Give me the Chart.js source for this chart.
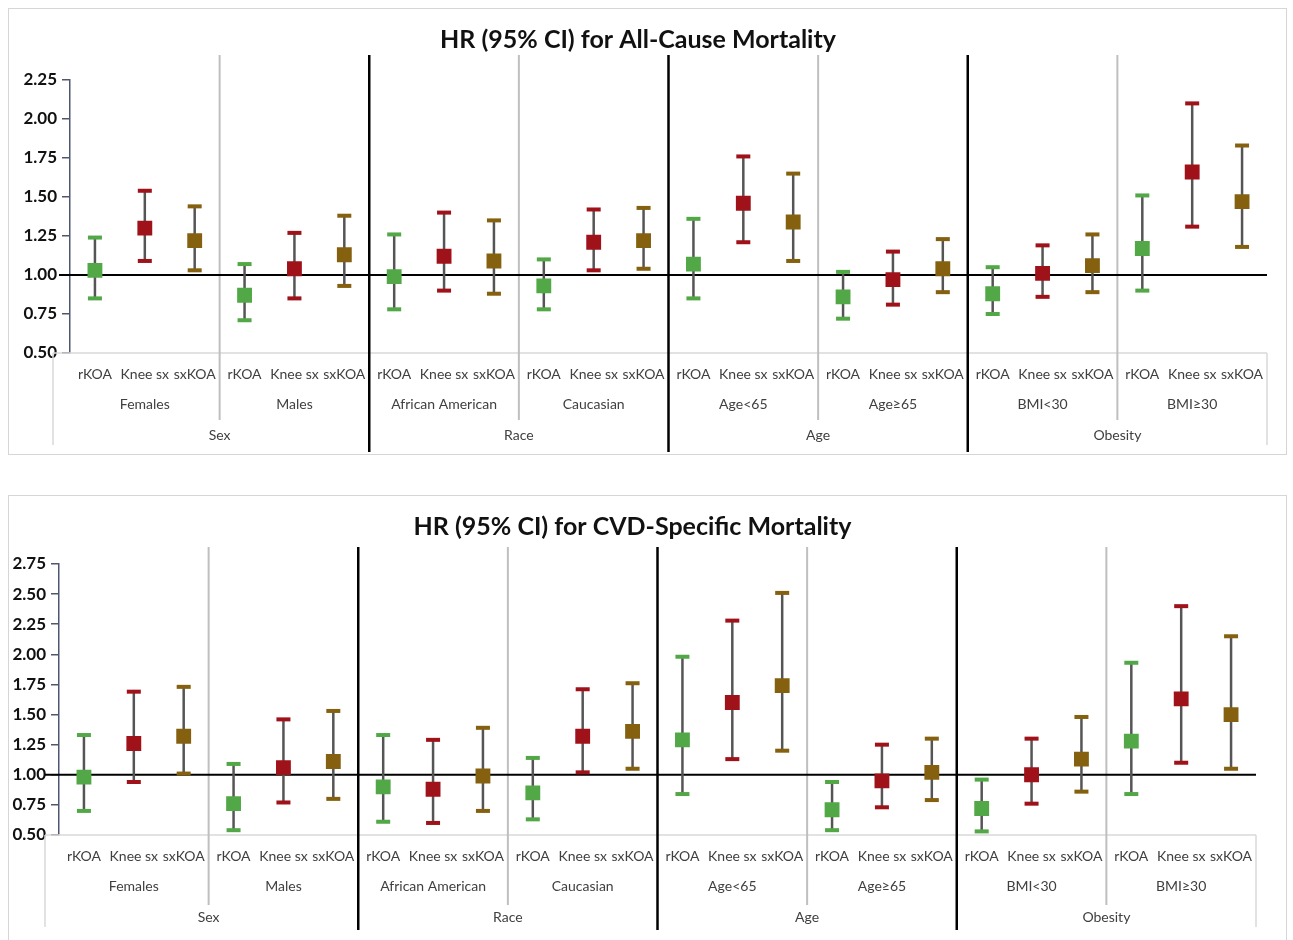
<!DOCTYPE html>
<html>
<head>
<meta charset="utf-8">
<title>HR (95% CI) mortality</title>
<script src="https://cdn.jsdelivr.net/npm/chart.js@4.4.0/dist/chart.umd.min.js"></script>
<style>
  body { margin: 0; background: #fff; width: 1293px; height: 940px; overflow: hidden; position: relative; }
  .panel { position: absolute; left: 8px; width: 1277px; border: 1px solid #d6d6d6; background: #fff; }
  #p1 { top: 8px; height: 445px; }
  #p2 { top: 495px; height: 458px; }
  canvas { display: block; }
</style>
</head>
<body>
<div class="panel" id="p1"><canvas id="acm"></canvas></div>
<div class="panel" id="p2"><canvas id="cvd"></canvas></div>

<script>
const subgroups = ['Females', 'Males', 'African American', 'Caucasian', 'Age<65', 'Age\u226565', 'BMI<30', 'BMI\u226530'];
const groups = ['Sex', 'Race', 'Age', 'Obesity'];
const measures = ['rKOA', 'Knee sx', 'sxKOA'];
const colors = ['#52a846', '#a01219', '#84600f'];

// all-cause mortality, one value per subgroup
const acmRkoa   = [1.03, 0.87, 0.99, 0.93, 1.07, 0.86, 0.88, 1.17];
const acmRkoaLo = [0.85, 0.71, 0.78, 0.78, 0.85, 0.72, 0.75, 0.90];
const acmRkoaHi = [1.24, 1.07, 1.26, 1.10, 1.36, 1.02, 1.05, 1.51];
const acmKnee   = [1.30, 1.04, 1.12, 1.21, 1.46, 0.97, 1.01, 1.66];
const acmKneeLo = [1.09, 0.85, 0.90, 1.03, 1.21, 0.81, 0.86, 1.31];
const acmKneeHi = [1.54, 1.27, 1.40, 1.42, 1.76, 1.15, 1.19, 2.10];
const acmSx     = [1.22, 1.13, 1.09, 1.22, 1.34, 1.04, 1.06, 1.47];
const acmSxLo   = [1.03, 0.93, 0.88, 1.04, 1.09, 0.89, 0.89, 1.18];
const acmSxHi   = [1.44, 1.38, 1.35, 1.43, 1.65, 1.23, 1.26, 1.83];

// CVD-specific mortality
const cvdRkoa   = [0.98, 0.76, 0.90, 0.85, 1.29, 0.71, 0.72, 1.28];
const cvdRkoaLo = [0.70, 0.54, 0.61, 0.63, 0.84, 0.54, 0.53, 0.84];
const cvdRkoaHi = [1.33, 1.09, 1.33, 1.14, 1.98, 0.94, 0.96, 1.93];
const cvdKnee   = [1.26, 1.06, 0.88, 1.32, 1.60, 0.95, 1.00, 1.63];
const cvdKneeLo = [0.94, 0.77, 0.60, 1.02, 1.13, 0.73, 0.76, 1.10];
const cvdKneeHi = [1.69, 1.46, 1.29, 1.71, 2.28, 1.25, 1.30, 2.40];
const cvdSx     = [1.32, 1.11, 0.99, 1.36, 1.74, 1.02, 1.13, 1.50];
const cvdSxLo   = [1.01, 0.80, 0.70, 1.05, 1.20, 0.79, 0.86, 1.05];
const cvdSxHi   = [1.73, 1.53, 1.39, 1.76, 2.51, 1.30, 1.48, 2.15];

const categoryLabels = subgroups.flatMap(() => measures);

function buildDatasets(est, lo, hi) {
  return measures.map((m, k) => {
    const data = categoryLabels.map(() => null);
    const low = data.slice();
    const high = data.slice();
    subgroups.forEach((s, i) => {
      data[i * 3 + k] = est[k][i];
      low[i * 3 + k] = lo[k][i];
      high[i * 3 + k] = hi[k][i];
    });
    return {
      label: m, data, lo: low, hi: high, showLine: false,
      pointStyle: 'rect', pointRadius: 10.5, pointHoverRadius: 10.5,
      pointBackgroundColor: colors[k], pointBorderColor: colors[k], pointBorderWidth: 0
    };
  });
}

// boundary between category i-1 and i
function edge(x, i) {
  if (i === 0) return x.left;
  if (i === categoryLabels.length) return x.right;
  return (x.getPixelForValue(i - 1) + x.getPixelForValue(i)) / 2;
}

const panelLines = {
  id: 'panelLines',
  beforeDatasetsDraw(chart, args, o) {
    const { ctx, chartArea: { top, bottom, left, right }, scales: { x, y } } = chart;
    ctx.save();
    const line = (x1, y1, x2, y2) => { ctx.beginPath(); ctx.moveTo(x1, y1); ctx.lineTo(x2, y2); ctx.stroke(); };

    // label table frame
    ctx.strokeStyle = '#d9d9d9';
    ctx.lineWidth = 1.5;
    line(left - o.edge, bottom, right, bottom);
    line(left - o.edge, bottom, left - o.edge, bottom + o.edgeDown);
    line(right, bottom, right, bottom + o.edgeDown);

    // subgroup / group separators
    for (let s = 1; s < subgroups.length; s++) {
      const px = edge(x, s * 3);
      if (s % 2) {
        ctx.strokeStyle = '#bfbfbf';
        ctx.lineWidth = 2;
        line(px, top - o.above, px, bottom + o.grayDown);
      } else {
        ctx.strokeStyle = '#000';
        ctx.lineWidth = 2.5;
        line(px, top - o.above, px, bottom + o.blackDown);
      }
    }

    // reference line at HR = 1
    ctx.strokeStyle = '#000';
    ctx.lineWidth = 2;
    line(left - o.refLeft, y.getPixelForValue(1), right, y.getPixelForValue(1));

    ctx.fillStyle = '#404040';
    ctx.font = '14px Lato';
    ctx.textAlign = 'center';
    ctx.textBaseline = 'middle';
    subgroups.forEach((s, i) => ctx.fillText(s, (edge(x, i * 3) + edge(x, i * 3 + 3)) / 2, bottom + 51));
    groups.forEach((g, j) => ctx.fillText(g, (edge(x, j * 6) + edge(x, j * 6 + 6)) / 2, bottom + 82));
    ctx.restore();
  }
};

const errorBars = {
  id: 'errorBars',
  beforeDatasetsDraw(chart) {
    const { ctx, scales: { x, y } } = chart;
    ctx.save();
    chart.data.datasets.forEach((ds, k) => {
      ds.data.forEach((v, i) => {
        if (v == null) return;
        const px = x.getPixelForValue(i);
        const yHi = y.getPixelForValue(ds.hi[i]);
        const yLo = y.getPixelForValue(ds.lo[i]);
        ctx.strokeStyle = '#555';
        ctx.lineWidth = 2.5;
        ctx.beginPath();
        ctx.moveTo(px, yHi);
        ctx.lineTo(px, yLo);
        ctx.stroke();
        ctx.fillStyle = colors[k];
        ctx.fillRect(px - 7, yHi - 2, 14, 4);
        ctx.fillRect(px - 7, yLo - 2, 14, 4);
      });
    });
    ctx.restore();
  }
};

function makeChart(id, title, datasets, yMax, g) {
  return new Chart(document.getElementById(id), {
    type: 'line',
    data: { labels: categoryLabels, datasets },
    options: {
      responsive: true,
      maintainAspectRatio: false,
      animation: false,
      events: [],
      layout: { padding: { left: 0, right: g.padRight, top: 0, bottom: 0 } },
      plugins: {
        legend: { display: false },
        tooltip: { enabled: false },
        title: {
          display: true, text: title, color: '#111',
          font: { family: 'Lato', size: 25, weight: 'bold' },
          padding: { top: 16, bottom: g.titleBottom }
        },
        panelLines: g.lines
      },
      scales: {
        x: {
          offset: true,
          grid: { display: false, drawTicks: false },
          border: { display: false },
          ticks: { autoSkip: false, maxRotation: 0, minRotation: 0, padding: 13, color: '#404040', font: { family: 'Lato', size: 14 } },
          afterFit: s => { s.height = g.xHeight; }
        },
        y: {
          min: 0.5, max: yMax,
          grid: { drawOnChartArea: false, color: '#4f5670', lineWidth: 1.5, tickLength: 8 },
          border: { color: '#4f5670', width: 1.5 },
          ticks: { stepSize: 0.25, padding: 5, color: '#111', font: { family: 'Lato', size: 17, weight: 'bold' }, callback: v => v.toFixed(2) },
          afterFit: s => { s.width = g.yWidth; }
        }
      }
    },
    plugins: [panelLines, errorBars]
  });
}

makeChart('acm', 'HR (95% CI) for All-Cause Mortality',
  buildDatasets([acmRkoa, acmKnee, acmSx], [acmRkoaLo, acmKneeLo, acmSxLo], [acmRkoaHi, acmKneeHi, acmSxHi]),
  2.25,
  { padRight: 19, titleBottom: 25, xHeight: 101, yWidth: 61,
    lines: { edge: 17, edgeDown: 92, above: 25, grayDown: 67, blackDown: 99, refLeft: 11 } });

makeChart('cvd', 'HR (95% CI) for CVD-Specific Mortality',
  buildDatasets([cvdRkoa, cvdKnee, cvdSx], [cvdRkoaLo, cvdKneeLo, cvdSxLo], [cvdRkoaHi, cvdKneeHi, cvdSxHi]),
  2.75,
  { padRight: 30, titleBottom: 22, xHeight: 119, yWidth: 50,
    lines: { edge: 14, edgeDown: 92, above: 17, grayDown: 70, blackDown: 95, refLeft: 14 } });
</script>
</body>
</html>
